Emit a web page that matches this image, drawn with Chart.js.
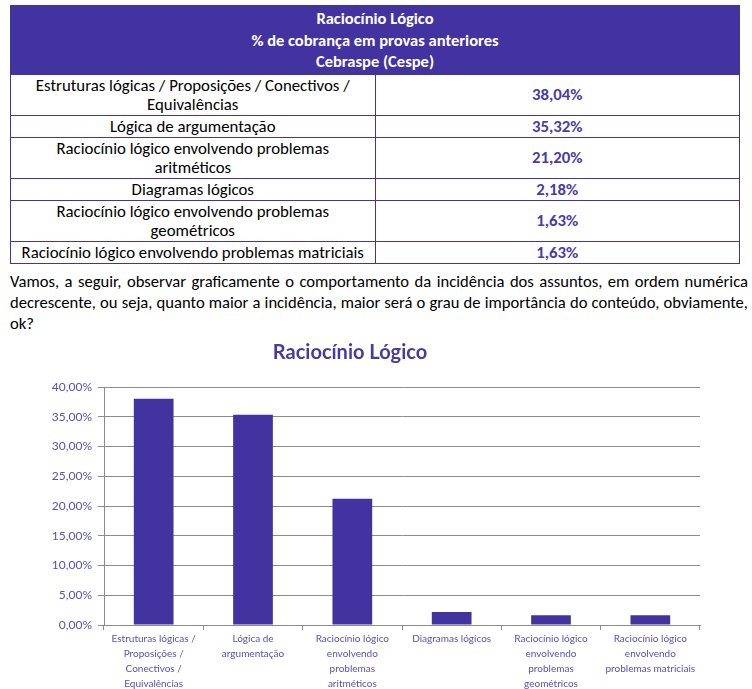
<!DOCTYPE html>
<html>
<head>
<meta charset="utf-8">
<script src="https://cdn.jsdelivr.net/npm/chart.js@4.4.0/dist/chart.umd.min.js"></script>
<style>
  body { margin: 0; background: #fff; width: 752px; height: 689px; overflow: hidden; position: relative; }
  #tabela { position: absolute; left: 10px; top: 5px; width: 730px; border-collapse: collapse;
    font-family: Carlito, "Liberation Sans Narrow", "Open Sans", sans-serif; font-size: 16.8px; }
  #tabela th { background: #4333A1; color: #fff; font-weight: bold; font-size: 16.5px; line-height: 21.5px; padding: 2px 0 1px; border: 1px solid #4333A1; }
  #tabela td { border: 1px solid #4333A1; text-align: center; line-height: 19px; padding: 1px 2px; color: #000; width: 50%; }
  #tabela td.valor { color: #4B3BA8; font-weight: bold; }
  #texto { position: absolute; left: 10px; top: 271px; width: 738px; margin: 0;
    font-family: Carlito, "Liberation Sans Narrow", "Open Sans", sans-serif; font-size: 16.6px; line-height: 21px; text-align: justify; color: #000; }
  #caixa { position: absolute; left: 0; top: 330px; width: 752px; height: 359px; }
</style>
</head>
<body>
<table id="tabela">
  <thead>
    <tr><th colspan="2">Raciocínio Lógico<br>% de cobrança em provas anteriores<br>Cebraspe (Cespe)</th></tr>
  </thead>
  <tbody id="linhas"></tbody>
</table>
<p id="texto">Vamos, a seguir, observar graficamente o comportamento da incidência dos assuntos, em ordem numérica decrescente, ou seja, quanto maior a incidência, maior será o grau de importância do conteúdo, obviamente, ok?</p>
<div id="caixa"><canvas id="grafico"></canvas></div>
<script>
// assuntos como aparecem (quebrados) na tabela
const assuntos = [
  ['Estruturas lógicas / Proposições / Conectivos /', 'Equivalências'],
  ['Lógica de argumentação'],
  ['Raciocínio lógico envolvendo problemas', 'aritméticos'],
  ['Diagramas lógicos'],
  ['Raciocínio lógico envolvendo problemas', 'geométricos'],
  ['Raciocínio lógico envolvendo problemas matriciais']
];
// rótulos quebrados como aparecem no eixo X
const rotulos = [
  ['Estruturas lógicas /', 'Proposições /', 'Conectivos /', 'Equivalências'],
  ['Lógica de', 'argumentação'],
  ['Raciocínio lógico', 'envolvendo', 'problemas', 'aritméticos'],
  ['Diagramas lógicos'],
  ['Raciocínio lógico', 'envolvendo', 'problemas', 'geométricos'],
  ['Raciocínio lógico', 'envolvendo', 'problemas matriciais']
];
const percentuais = [38.04, 35.32, 21.20, 2.18, 1.63, 1.63];

const fmt = v => v.toFixed(2).replace('.', ',') + '%';

const corpo = document.getElementById('linhas');
assuntos.forEach((a, i) => {
  const tr = document.createElement('tr');
  tr.innerHTML = '<td>' + a.join('<br>') + '</td><td class="valor">' + fmt(percentuais[i]) + '</td>';
  corpo.appendChild(tr);
});

const roxo = '#4333A1';
const cinza = '#8c8c8c';
const fonte = 'Lato, "DejaVu Sans", sans-serif';

new Chart(document.getElementById('grafico'), {
  type: 'bar',
  data: {
    labels: rotulos,
    datasets: [{
      data: percentuais,
      backgroundColor: roxo,
      borderWidth: 0,
      barPercentage: 0.4,
      categoryPercentage: 1
    }]
  },
  options: {
    responsive: true,
    maintainAspectRatio: false,
    animation: false,
    layout: { padding: { left: 0, right: 52, top: 0, bottom: 0 } },
    plugins: {
      legend: { display: false },
      tooltip: { enabled: false },
      title: {
        display: true,
        text: 'Raciocínio Lógico',
        color: '#4B3A9E',
        font: { family: fonte, size: 20, weight: 'bold' },
        padding: { top: 11, bottom: 22 }
      }
    },
    scales: {
      x: {
        grid: { drawOnChartArea: false, color: cinza, tickLength: 5, offset: true },
        border: { color: cinza, width: 1 },
        ticks: {
          color: '#5A4FB8',
          font: { family: fonte, size: 10, lineHeight: 1.5 },
          maxRotation: 0,
          autoSkip: false,
          padding: 1
        },
        afterFit: s => { s.height = 64; }
      },
      y: {
        min: 0,
        max: 40,
        grid: { color: cinza, tickLength: 6 },
        border: { color: cinza, width: 1 },
        ticks: {
          stepSize: 5,
          color: '#5A4FB8',
          font: { family: fonte, size: 12 },
          padding: 6,
          callback: v => fmt(v)
        },
        afterFit: s => { s.width = 104; }
      }
    }
  }
});
</script>
</body>
</html>
